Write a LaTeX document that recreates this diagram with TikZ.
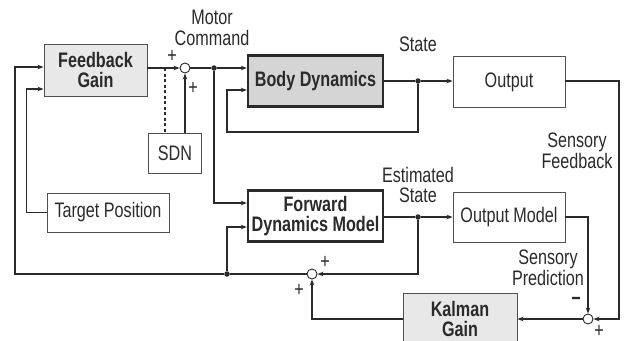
\documentclass[tikz,border=0pt]{standalone}
\usepackage{fontspec}
\setmainfont{Liberation Sans}[FakeStretch=0.77]
\usetikzlibrary{arrows.meta}
\definecolor{boxlight}{HTML}{E8E8E8}
\definecolor{boxdark}{HTML}{D5D5D5}
\definecolor{linedark}{HTML}{2A2A2A}
\definecolor{framegray}{HTML}{505050}
\newcommand{\diagfont}{\fontsize{21}{20.5}\selectfont}

\begin{document}
\begin{tikzpicture}[x=1pt, y=-1pt, >={Stealth[length=6pt,width=4.5pt]},
    font=\diagfont, text=linedark, align=center,
    thinbox/.style={draw=framegray, line width=0.9pt, inner sep=0pt},
    thickbox/.style={draw=linedark, line width=2.4pt, inner sep=0pt, font=\diagfont\bfseries},
    sumcirc/.style={circle, draw=linedark, line width=0.9pt, fill=white, minimum size=10pt, inner sep=0pt},
    junction/.style={circle, fill=linedark, minimum size=5.5pt, inner sep=0pt},
    lbl/.style={inner sep=1pt},
    sign/.style={inner sep=0pt},
    flow/.style={draw=linedark, line width=1.2pt}]
  \clip (0,0) rectangle (626,340);
  % blocks
  \node[thinbox, fill=boxlight, minimum width=103, minimum height=52, font=\diagfont\bfseries] (fbgain) at (95.5,70) {Feedback\\Gain};
  \node[thinbox, minimum width=53, minimum height=40] (sdn) at (175,153) {SDN};
  \node[thickbox, fill=boxdark, minimum width=135, minimum height=51] (body) at (315.5,81) {Body Dynamics};
  \node[thinbox, minimum width=112, minimum height=51] (output) at (509,82) {Output};
  \node[thickbox, fill=white, minimum width=135, minimum height=51] (fwd) at (315.5,216) {Forward\\Dynamics Model};
  \node[thinbox, minimum width=112, minimum height=50] (outmodel) at (509,217) {Output Model};
  \node[thinbox, minimum width=122, minimum height=39] (target) at (108,212.5) {Target Position};
  \node[thinbox, fill=boxlight, minimum width=114, minimum height=52, font=\diagfont\bfseries] (kalman) at (460,319) {Kalman\\Gain};
  % sums and branch points
  \node[sumcirc] (s1) at (185,68) {};
  \node[sumcirc] (s2) at (312,274) {};
  \node[sumcirc] (s3) at (588,319) {};
  \node[junction] (d1) at (214,68) {};
  \node[junction] (d2) at (418,81) {};
  \node[junction] (d3) at (418,217) {};
  \node[junction] (d4) at (227,274) {};
  \coordinate (dashtop) at (165,68);
  \coordinate (dashbot) at (165,133);
  \coordinate (loopb) at (227,132);
  \coordinate (sfb) at (619,319);
  \coordinate (lbot) at (15,274);
  % motor command path
  \draw[flow,->] (fbgain.east |- s1) -- (s1);
  \draw[flow,->] (sdn.north -| s1) -- (s1);
  \draw[line width=1.3pt, linedark, dash pattern=on 3pt off 2.5pt] (dashtop) -- (dashbot);
  \draw[flow] (s1) -- (d1);
  \draw[flow,->] (d1) -- (body.west |- d1);
  \draw[flow,->] (d1) |- ([yshift=13pt]fwd.west);
  % plant
  \draw[flow] (body.east |- d2) -- (d2);
  \draw[flow,->] (d2) |- (loopb) |- ([yshift=-9pt]body.west);
  \draw[flow,->] (d2) -- (output.west |- d2);
  \draw[flow,->] (output.east |- d2) -| (sfb) -- (s3);
  % estimator
  \draw[flow] (fwd.east |- d3) -- (d3);
  \draw[flow,->] (d3) -- (outmodel.west |- d3);
  \draw[flow,->] (outmodel.east |- d3) -| (s3);
  \draw[flow,->] (s3) -- (kalman.east |- s3);
  \draw[flow,->] (kalman.west |- s3) -| (s2);
  \draw[flow,->] (d3) |- (s2);
  \draw[flow] (s2) -- (d4);
  \draw[flow,->] (d4) -- (lbot) |- ([yshift=3pt]fbgain.west);
  \draw[flow,->] (d4) |- ([yshift=-11pt]fwd.west);
  \draw[flow,->] (target.west) -- ++(-20,0) |- ([yshift=-19pt]fbgain.west);
  % labels
  \node[lbl] (motorlbl) at (212,28) {Motor\\Command};
  \node[lbl] (statelbl) at (418,44) {State};
  \node[lbl] (estlbl) at (418,185) {Estimated\\State};
  \node[lbl] (sfblbl) at (577,151) {Sensory\\Feedback};
  \node[lbl] (spredlbl) at (548,268) {Sensory\\Prediction};
  \node[sign] (s1plusa) at (172,56) {+};
  \node[sign] (s1plusb) at (193,88) {+};
  \node[sign] (s2plusa) at (325,262) {+};
  \node[sign] (s2plusb) at (299,290) {+};
  \node[sign, font=\diagfont\bfseries] (s3minus) at (576,301) {−};
  \node[sign] (s3plus) at (599,331) {+};
\end{tikzpicture}
\end{document}
